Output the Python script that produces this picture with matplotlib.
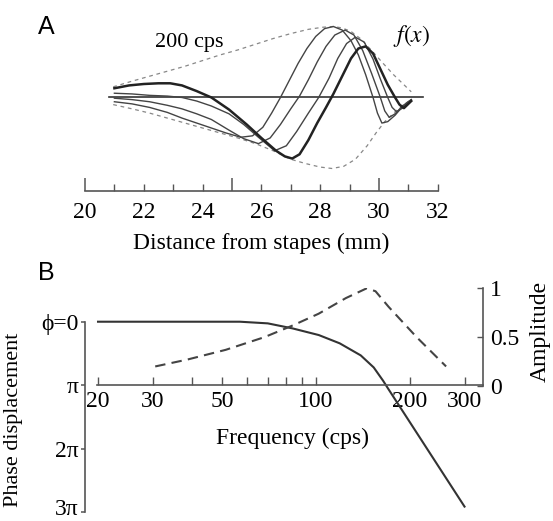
import matplotlib
matplotlib.use('Agg')
import matplotlib.pyplot as plt
import matplotlib.transforms as mtrans
from matplotlib.ticker import FixedLocator, NullFormatter

W, H = 553, 521
plt.rcParams['font.family'] = ['Liberation Serif', 'DejaVu Serif']
plt.rcParams['mathtext.fontset'] = 'stix'

# --- panel A: travelling wave snapshots (distance mm, relative displacement)
c1_x = [21.0, 21.6, 22.2, 22.8, 23.3, 23.8, 24.3, 24.8, 25.3, 25.7, 26.05, 26.35, 26.65, 26.95, 27.25,
        27.55, 27.85, 28.15, 28.45, 28.75, 29.05, 29.3, 29.55, 29.8, 29.95, 30.1, 30.3, 30.55, 30.8, 31.1]
c1_y = [-0.06, -0.09, -0.14, -0.21, -0.29, -0.36, -0.43, -0.5, -0.56, -0.54, -0.42, -0.22, 0.0, 0.24, 0.48,
        0.69, 0.86, 0.97, 1.0, 0.95, 0.8, 0.6, 0.32, 0.0, -0.22, -0.36, -0.34, -0.25, -0.13, -0.03]

c2_x = [21.0, 21.6, 22.2, 22.8, 23.3, 23.8, 24.3, 24.9, 25.4, 25.9, 26.3, 26.65, 27.0, 27.3, 27.6,
        27.9, 28.2, 28.5, 28.85, 29.15, 29.45, 29.75, 30.05, 30.2, 30.35, 30.55, 30.8, 31.1]
c2_y = [-0.01, -0.03, -0.06, -0.11, -0.16, -0.23, -0.31, -0.46, -0.58, -0.65, -0.57, -0.38, -0.16, 0.02, 0.25,
        0.5, 0.72, 0.88, 0.95, 0.88, 0.66, 0.34, 0.0, -0.19, -0.28, -0.23, -0.12, -0.03]

c3_x = [21.0, 21.6, 22.2, 22.8, 23.3, 23.8, 24.3, 24.9, 25.4, 25.9, 26.45, 26.85, 27.2, 27.6, 27.95,
        28.3, 28.6, 28.9, 29.2, 29.5, 29.8, 30.05, 30.3, 30.45, 30.6, 30.8, 31.1]
c3_y = [0.06, 0.05, 0.03, 0.02, 0.0, -0.05, -0.12, -0.23, -0.38, -0.56, -0.75, -0.68, -0.48, -0.22, 0.0,
        0.27, 0.55, 0.76, 0.85, 0.78, 0.54, 0.26, 0.0, -0.14, -0.2, -0.15, -0.04]

thick_x = [21.0, 21.5, 22.0, 22.5, 22.9, 23.3, 23.8, 24.3, 24.9, 25.5, 26.0, 26.5, 26.8, 27.05, 27.3,
           27.6, 27.9, 28.2, 28.45, 28.75, 29.05, 29.3, 29.55, 29.8, 30.05, 30.3, 30.55, 30.7, 30.85, 31.1]
thick_y = [0.13, 0.17, 0.19, 0.2, 0.2, 0.17, 0.09, 0.0, -0.17, -0.38, -0.57, -0.75, -0.83, -0.86, -0.8,
           -0.6, -0.36, -0.14, 0.05, 0.3, 0.55, 0.69, 0.72, 0.62, 0.4, 0.18, 0.0, -0.1, -0.15, -0.05]

env_up_x = [20.96, 21.6, 22.2, 22.8, 23.4, 24.0, 24.6, 25.2, 25.8, 26.4, 27.0, 27.6, 28.1, 28.45,
            28.75, 29.05, 29.4, 29.8, 30.1, 30.5, 30.8, 31.1]
env_up_y = [0.15, 0.23, 0.3, 0.37, 0.44, 0.52, 0.6, 0.67, 0.75, 0.83, 0.9, 0.96, 0.99, 1.0,
            0.98, 0.93, 0.82, 0.64, 0.5, 0.32, 0.2, 0.08]
env_lo_x = [20.96, 21.6, 22.2, 22.8, 23.4, 24.0, 24.6, 25.2, 25.8, 26.4, 27.0, 27.5, 28.0, 28.4,
            28.8, 29.2, 29.6, 29.9, 30.2, 30.5, 30.8, 31.1]
env_lo_y = [-0.1, -0.16, -0.22, -0.29, -0.36, -0.43, -0.5, -0.57, -0.65, -0.75, -0.87, -0.93, -0.98, -1.0,
            -0.97, -0.87, -0.68, -0.5, -0.34, -0.22, -0.11, -0.03]

dist_labels = [20, 22, 24, 26, 28, 30, 32]

# --- panel B: phase (in units of pi) and amplitude vs frequency
phase_f = [20, 40, 57, 70, 84, 102, 119, 139, 153, 164, 171, 299]
phase_v = [0, 0, 0, 0.026, 0.105, 0.21, 0.34, 0.53, 0.72, 0.93, 1.07, 2.91]
amp_f = [30.5, 38.6, 51.3, 68.3, 84.2, 101.9, 124.6, 145.3, 155, 170.8, 210, 261]
amp_v = [0.2, 0.27, 0.37, 0.5, 0.62, 0.74, 0.9, 1.0, 0.97, 0.81, 0.5, 0.2]
freq_major = [20, 30, 50, 100, 200, 300]
freq_minor = [40, 60, 70, 80, 90]

axis_col = '#555555'
line_col = '#333333'
fs = 17

fig = plt.figure(figsize=(W / 100, H / 100), dpi=100)


def px_axes(left, top, right, bottom):
    return fig.add_axes([left / W, 1 - bottom / H, (right - left) / W, (bottom - top) / H])


def ptext(x, y, s, **kw):
    fig.text(x / W, 1 - y / H, s, **kw)


# panel A
ax = px_axes(85, 15, 437.7, 190.7)
ax.set_xlim(20, 32)
ax.set_ylim(-1.313, 1.162)
ax.patch.set_visible(False)
for s in ['top', 'left', 'right']:
    ax.spines[s].set_visible(False)
ax.spines['bottom'].set_color(axis_col)
ax.spines['bottom'].set_linewidth(1.2)
ax.set_yticks([])
ax.set_xticks([20, 25, 30])
ax.set_xticks([21, 22, 23, 24, 26, 27, 28, 29, 31, 32], minor=True)
ax.tick_params(axis='x', which='major', direction='in', length=9.5, width=1.1, color=axis_col, labelbottom=False)
ax.tick_params(axis='x', which='minor', direction='in', length=5, width=1.0, color=axis_col)
for v in dist_labels:
    ax.text(v, -1.62, str(v), ha='center', va='center', fontsize=fs, clip_on=False)

ax.plot([20.8, 31.5], [0, 0], color=line_col, lw=1.2)
ax.plot(env_up_x, env_up_y, color='#888888', lw=0.9, dashes=(3, 3))
ax.plot(env_lo_x, env_lo_y, color='#888888', lw=0.9, dashes=(3, 3))
for xs, ys in [(c1_x, c1_y), (c2_x, c2_y), (c3_x, c3_y)]:
    ax.plot(xs, ys, color='#444444', lw=1.0)
ax.plot(thick_x, thick_y, color='#222222', lw=1.8)

ptext(46.5, 26.5, 'A', family=['Liberation Sans'], fontsize=18, ha='center', va='center')
ptext(189, 42, '200 cps', fontsize=fs - 1, ha='center', va='center')
ptext(412, 36, r'$f(x)$', fontsize=fs, ha='center', va='center')
ptext(261, 243, 'Distance from stapes (mm)', fontsize=fs, ha='center', va='center')

# panel B
axb = px_axes(85.4, 288.3, 483, 512.3)
axb.set_xscale('log')
axb.set_xlim(18.22, 342.7)
axb.set_ylim(3, -0.526)
axb.patch.set_visible(False)
axb.spines['top'].set_visible(False)
axb.spines['right'].set_visible(False)
axb.spines['left'].set_bounds(0, 3)
axb.spines['bottom'].set_position(('data', 1))
axb.spines['bottom'].set_bounds(19.9, 342.7)
for s in ['left', 'bottom']:
    axb.spines[s].set_color(axis_col)
    axb.spines[s].set_linewidth(1.2)
axb.set_yticks([0, 1, 2, 3])
axb.set_yticklabels(['\u03d5=0', '\u03c0', '2\u03c0', '3\u03c0'])
axb.tick_params(axis='y', direction='out', length=3, width=1.1, color=axis_col, labelsize=fs, pad=2)
# keep the lowest label inside the picture
lab3 = axb.get_yticklabels()[3]
lab3.set_transform(lab3.get_transform() + mtrans.ScaledTranslation(0, 4 / 72, fig.dpi_scale_trans))
axb.xaxis.set_major_locator(FixedLocator(freq_major))
axb.xaxis.set_minor_locator(FixedLocator(freq_minor))
axb.xaxis.set_minor_formatter(NullFormatter())
axb.set_xticklabels([str(v) for v in freq_major])
axb.tick_params(axis='x', which='both', direction='in', length=5.5, width=1.0, color=axis_col,
                labelsize=fs, pad=4)
axb.plot(phase_f, phase_v, color=line_col, lw=1.5)

axa = axb.twinx()
axa.set_ylim(-1.293, 1.0)
for s in ['top', 'left', 'bottom']:
    axa.spines[s].set_visible(False)
axa.spines['right'].set_bounds(0, 1)
axa.spines['right'].set_color(axis_col)
axa.spines['right'].set_linewidth(1.2)
axa.set_yticks([0, 0.5, 1])
axa.set_yticklabels(['0', '0.5', '1'])
axa.tick_params(axis='y', direction='in', length=4, width=1.0, color=axis_col, labelsize=fs, pad=5)
axa.plot(amp_f, amp_v, color='#444444', lw=1.5, dashes=(5, 3))

ptext(46.5, 273.5, 'B', family=['Liberation Sans'], fontsize=18, ha='center', va='center')
ptext(293, 438, 'Frequency (cps)', fontsize=fs, ha='center', va='center')
ptext(540, 331.7, 'Amplitude', fontsize=fs, rotation=90, ha='center', va='center')
ptext(14, 420, 'Phase displacement', fontsize=fs - 1, rotation=90, ha='center', va='center')

fig.savefig('out.png', dpi=100)
